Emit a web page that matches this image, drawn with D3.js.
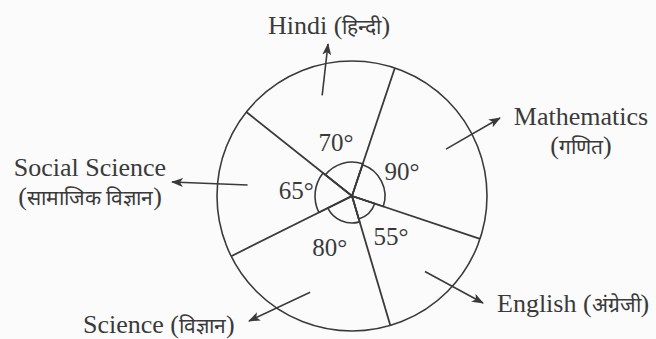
<!DOCTYPE html>
<html>
<head>
<meta charset="utf-8">
<script src="https://cdn.jsdelivr.net/npm/d3@7"></script>
<style>
  body { margin: 0; background: #fbfbfb; }
  text { font-family: "Liberation Serif", "Times New Roman", serif; fill: #3a3a3a; }
  .dev { font-size: 21px; }
</style>
</head>
<body>
<svg width="656" height="339"></svg>
<script>
// Data
const subjects = ["Hindi", "Mathematics", "English", "Science", "Social Science"];
const hindiNames = ["हिन्दी", "गणित", "अंग्रेजी", "विज्ञान", "सामाजिक विज्ञान"];
const degrees = [70, 90, 55, 80, 65];

// Layout (label text positions and arrow tips)
const labelLayout = {
  "Hindi":          { twoLines: false, x: 268, y: 34, anchor: "start", tip: [328, 44] },
  "Mathematics":    { twoLines: true,  x: 581, y: 125, anchor: "middle", tip: [500, 118] },
  "English":        { twoLines: false, x: 497, y: 312, anchor: "start", tip: [483, 303] },
  "Science":        { twoLines: false, x: 83, y: 333, anchor: "start", tip: [249, 321] },
  "Social Science": { twoLines: true,  x: 90, y: 176, anchor: "middle", tip: [172, 182] }
};
const markRadius = [34, 33, 24, 27, 37]; // small angle arcs near the centre

const svg = d3.select("svg");
const cx = 352, cy = 196, radius = 135;
const ink = "#3a3a3a";

const start = -51.5 * Math.PI / 180;
const pie = d3.pie().sort(null).value(d => d)
  .startAngle(start).endAngle(start + 2 * Math.PI);
const slices = pie(degrees);

const g = svg.append("g").attr("transform", `translate(${cx},${cy})`);

// arrow head
svg.append("defs").append("marker")
  .attr("id", "head")
  .attr("viewBox", "0 0 12 10")
  .attr("refX", 11).attr("refY", 5)
  .attr("markerWidth", 12).attr("markerHeight", 10)
  .attr("markerUnits", "userSpaceOnUse")
  .attr("orient", "auto")
  .append("path")
  .attr("d", "M0,0.5 L12,5 L0,9.5 L3,5 Z")
  .attr("fill", ink);

// outer circle
g.append("circle")
  .attr("r", radius)
  .attr("fill", "none")
  .attr("stroke", ink)
  .attr("stroke-width", 1.6);

// radial lines at each slice boundary
g.selectAll(".spoke")
  .data(slices)
  .join("line")
  .attr("class", "spoke")
  .attr("x1", 0).attr("y1", 0)
  .attr("x2", d => radius * Math.sin(d.startAngle))
  .attr("y2", d => -radius * Math.cos(d.startAngle))
  .attr("stroke", ink)
  .attr("stroke-width", 1.8);

// small arcs marking each angle
g.selectAll(".mark")
  .data(slices)
  .join("path")
  .attr("class", "mark")
  .attr("d", (d, i) => d3.arc().innerRadius(0).outerRadius(markRadius[i])(d))
  .attr("fill", "none")
  .attr("stroke", ink)
  .attr("stroke-width", 1.6);

// angle labels
const labelArc = d3.arc().innerRadius(56).outerRadius(56);
g.selectAll(".deg")
  .data(slices)
  .join("text")
  .attr("class", "deg")
  .attr("x", d => labelArc.centroid(d)[0])
  .attr("y", d => labelArc.centroid(d)[1])
  .attr("dy", "0.35em")
  .attr("text-anchor", "middle")
  .style("font-size", "25px")
  .text(d => d.data + "°");

// arrows from inside each slice out to its label
const arrowArc = d3.arc().innerRadius(105).outerRadius(105);
g.selectAll(".arrow")
  .data(slices)
  .join("line")
  .attr("class", "arrow")
  .attr("x1", d => arrowArc.centroid(d)[0])
  .attr("y1", d => arrowArc.centroid(d)[1])
  .attr("x2", (d, i) => labelLayout[subjects[i]].tip[0] - cx)
  .attr("y2", (d, i) => labelLayout[subjects[i]].tip[1] - cy)
  .attr("stroke", ink)
  .attr("stroke-width", 1.6)
  .attr("marker-end", "url(#head)");

// subject labels: English name, then the Hindi name in brackets
subjects.forEach((s, i) => {
  const L = labelLayout[s];
  const t = svg.append("text")
    .attr("x", L.x).attr("y", L.y)
    .attr("text-anchor", L.anchor)
    .style("font-size", "26px");
  if (L.twoLines) {
    t.append("tspan").attr("x", L.x).text(s);
    const t2 = svg.append("text")
      .attr("x", L.x).attr("y", L.y + 29)
      .attr("text-anchor", L.anchor)
      .style("font-size", "26px");
    t2.append("tspan").text("(");
    t2.append("tspan").attr("class", "dev").text(hindiNames[i]);
    t2.append("tspan").text(")");
  } else {
    t.append("tspan").text(s + " (");
    t.append("tspan").attr("class", "dev").text(hindiNames[i]);
    t.append("tspan").text(")");
  }
});
</script>
</body>
</html>
